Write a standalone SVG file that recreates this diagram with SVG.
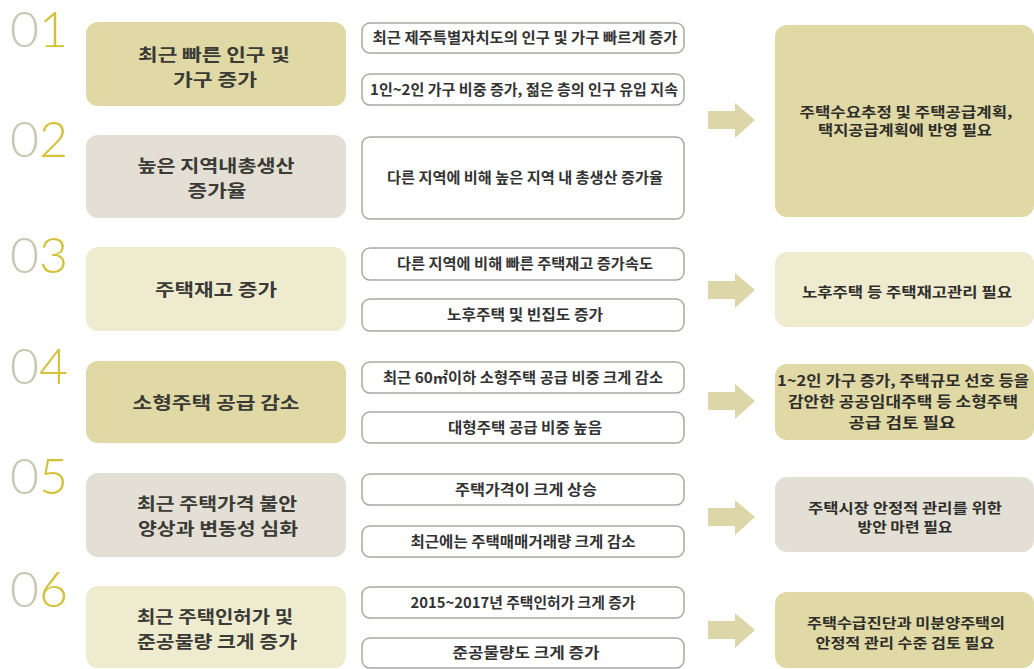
<svg xmlns="http://www.w3.org/2000/svg" xmlns:xlink="http://www.w3.org/1999/xlink" width="1034" height="669" viewBox="0 0 1034 669">
<style>
.num{font-family:Lato,"Open Sans","Noto Sans",sans-serif;font-weight:300;font-size:50px}
.z{fill:#c9c7b2}
.d{fill:#d2c23a}
.ttl{font-family:"Noto Sans CJK KR","Noto Sans",sans-serif;font-weight:700;font-size:17.5px;fill:#3a3a36;text-anchor:middle}
.mid{font-family:"Noto Sans CJK KR","Noto Sans",sans-serif;font-weight:700;font-size:14.5px;fill:#333;text-anchor:middle}
.res{font-family:"Noto Sans CJK KR","Noto Sans",sans-serif;font-weight:700;font-size:14px;fill:#2e2e2a;text-anchor:middle}
.big{font-size:14.5px}
.mb{fill:#fff;stroke:#a8a8a4;stroke-width:1.5}
.c1{fill:#e0d9a5}
.c2{fill:#e3dfd4}
.c3{fill:#efebcf}
.arr{fill:#ddd6a9}
</style>
<defs>
<path id="arrow" d="M0,-9 H27 V-17 L47,0 L27,18 V9 H0 Z"/>
</defs>
<rect width="1034" height="669" fill="#fff"/>

<g id="row1">
<text class="num" x="10" y="47"><tspan class="z">0</tspan><tspan class="d">1</tspan></text>
<g id="cause1"><rect class="c1" x="86" y="22" width="260" height="84" rx="12"/>
<text class="ttl" x="214" y="61" textLength="152" lengthAdjust="spacingAndGlyphs">최근 빠른 인구 및</text><text class="ttl" x="215" y="86" textLength="84" lengthAdjust="spacingAndGlyphs">가구 증가</text></g>
<g id="fact1a"><rect class="mb" x="362" y="23" width="322" height="30" rx="8"/><text class="mid" x="525" y="43" textLength="305" lengthAdjust="spacingAndGlyphs">최근 제주특별자치도의 인구 및 가구 빠르게 증가</text></g>
<g id="fact1b"><rect class="mb" x="362" y="74" width="322" height="31" rx="8"/><text class="mid" x="524" y="95" textLength="308" lengthAdjust="spacingAndGlyphs">1인~2인 가구 비중 증가, 젊은 층의 인구 유입 지속</text></g>
</g>

<g id="row2">
<text class="num" x="10" y="157"><tspan class="z">0</tspan><tspan class="d">2</tspan></text>
<g id="cause2"><rect class="c2" x="86" y="135" width="260" height="83" rx="12"/>
<text class="ttl" x="216" y="172" textLength="157" lengthAdjust="spacingAndGlyphs">높은 지역내총생산</text><text class="ttl" x="217" y="197" textLength="59" lengthAdjust="spacingAndGlyphs">증가율</text></g>
<g id="fact2"><rect class="mb" x="362" y="137" width="322" height="82" rx="8"/><text class="mid" x="525" y="183" textLength="276" lengthAdjust="spacingAndGlyphs">다른 지역에 비해 높은 지역 내 총생산 증가율</text></g>
</g>

<g id="result1"><rect class="c1" x="775" y="25" width="259" height="192" rx="12"/>
<text class="res" x="906" y="117" textLength="213" lengthAdjust="spacingAndGlyphs">주택수요추정 및 주택공급계획,</text><text class="res" x="905" y="135" textLength="174" lengthAdjust="spacingAndGlyphs">택지공급계획에 반영 필요</text></g>

<g id="row3">
<text class="num" x="10" y="273"><tspan class="z">0</tspan><tspan class="d">3</tspan></text>
<g id="cause3"><rect class="c3" x="86" y="247" width="260" height="84" rx="12"/>
<text class="ttl" x="216" y="296" textLength="122" lengthAdjust="spacingAndGlyphs">주택재고 증가</text></g>
<g id="fact3a"><rect class="mb" x="362" y="248" width="322" height="32" rx="8"/><text class="mid" x="525" y="269" textLength="256" lengthAdjust="spacingAndGlyphs">다른 지역에 비해 빠른 주택재고 증가속도</text></g>
<g id="fact3b"><rect class="mb" x="362" y="299" width="322" height="32" rx="8"/><text class="mid" x="525" y="320" textLength="156" lengthAdjust="spacingAndGlyphs">노후주택 및 빈집도 증가</text></g>
<g id="result3"><rect class="c3" x="775" y="252" width="259" height="75" rx="12"/>
<text class="res" x="907" y="297" textLength="210" lengthAdjust="spacingAndGlyphs">노후주택 등 주택재고관리 필요</text></g>
</g>

<g id="row4">
<text class="num" x="10" y="384"><tspan class="z">0</tspan><tspan class="d">4</tspan></text>
<g id="cause4"><rect class="c1" x="86" y="361" width="260" height="82" rx="12"/>
<text class="ttl" x="216" y="409" textLength="167" lengthAdjust="spacingAndGlyphs">소형주택 공급 감소</text></g>
<g id="fact4a"><rect class="mb" x="362" y="362" width="322" height="31" rx="8"/><text class="mid" x="523" y="383" textLength="280" lengthAdjust="spacingAndGlyphs">최근 60㎡이하 소형주택 공급 비중 크게 감소</text></g>
<g id="fact4b"><rect class="mb" x="362" y="412" width="322" height="31" rx="8"/><text class="mid" x="525" y="433" textLength="154" lengthAdjust="spacingAndGlyphs">대형주택 공급 비중 높음</text></g>
<g id="result4"><rect class="c1" x="775" y="364" width="259" height="76" rx="12"/>
<text class="res big" x="903" y="386" textLength="252" lengthAdjust="spacingAndGlyphs">1~2인 가구 증가, 주택규모 선호 등을</text><text class="res big" x="903" y="407" textLength="230" lengthAdjust="spacingAndGlyphs">감안한 공공임대주택 등 소형주택</text><text class="res big" x="902" y="428" textLength="107" lengthAdjust="spacingAndGlyphs">공급 검토 필요</text></g>
</g>

<g id="row5">
<text class="num" x="10" y="494"><tspan class="z">0</tspan><tspan class="d">5</tspan></text>
<g id="cause5"><rect class="c2" x="86" y="473" width="260" height="84" rx="12"/>
<text class="ttl" x="217" y="510" textLength="160" lengthAdjust="spacingAndGlyphs">최근 주택가격 불안</text><text class="ttl" x="218" y="535" textLength="160" lengthAdjust="spacingAndGlyphs">양상과 변동성 심화</text></g>
<g id="fact5a"><rect class="mb" x="362" y="474" width="322" height="31" rx="8"/><text class="mid" x="526" y="495" textLength="142" lengthAdjust="spacingAndGlyphs">주택가격이 크게 상승</text></g>
<g id="fact5b"><rect class="mb" x="362" y="526" width="322" height="31" rx="8"/><text class="mid" x="523" y="547" textLength="225" lengthAdjust="spacingAndGlyphs">최근에는 주택매매거래량 크게 감소</text></g>
<g id="result5"><rect class="c2" x="775" y="477" width="259" height="75" rx="12"/>
<text class="res" x="905" y="513" textLength="194" lengthAdjust="spacingAndGlyphs">주택시장 안정적 관리를 위한</text><text class="res" x="905" y="532" textLength="95" lengthAdjust="spacingAndGlyphs">방안 마련 필요</text></g>
</g>

<g id="row6">
<text class="num" x="10" y="607"><tspan class="z">0</tspan><tspan class="d">6</tspan></text>
<g id="cause6"><rect class="c3" x="86" y="586" width="260" height="82" rx="12"/>
<text class="ttl" x="215" y="623" textLength="156" lengthAdjust="spacingAndGlyphs">최근 주택인허가 및</text><text class="ttl" x="217" y="648" textLength="160" lengthAdjust="spacingAndGlyphs">준공물량 크게 증가</text></g>
<g id="fact6a"><rect class="mb" x="362" y="587" width="322" height="31" rx="8"/><text class="mid" x="523" y="608" textLength="225" lengthAdjust="spacingAndGlyphs">2015~2017년 주택인허가 크게 증가</text></g>
<g id="fact6b"><rect class="mb" x="362" y="638" width="322" height="30" rx="8"/><text class="mid" x="526" y="658" textLength="147" lengthAdjust="spacingAndGlyphs">준공물량도 크게 증가</text></g>
<g id="result6"><rect class="c1" x="775" y="592" width="259" height="76" rx="12"/>
<text class="res" x="906" y="628" textLength="198" lengthAdjust="spacingAndGlyphs">주택수급진단과 미분양주택의</text><text class="res" x="905" y="648" textLength="179" lengthAdjust="spacingAndGlyphs">안정적 관리 수준 검토 필요</text></g>
</g>

<g id="connectors">
<use xlink:href="#arrow" class="arr" x="708" y="120"/>
<use xlink:href="#arrow" class="arr" x="708" y="290"/>
<use xlink:href="#arrow" class="arr" x="708" y="401"/>
<use xlink:href="#arrow" class="arr" x="708" y="517"/>
<use xlink:href="#arrow" class="arr" x="708" y="630"/>
</g>
</svg>
